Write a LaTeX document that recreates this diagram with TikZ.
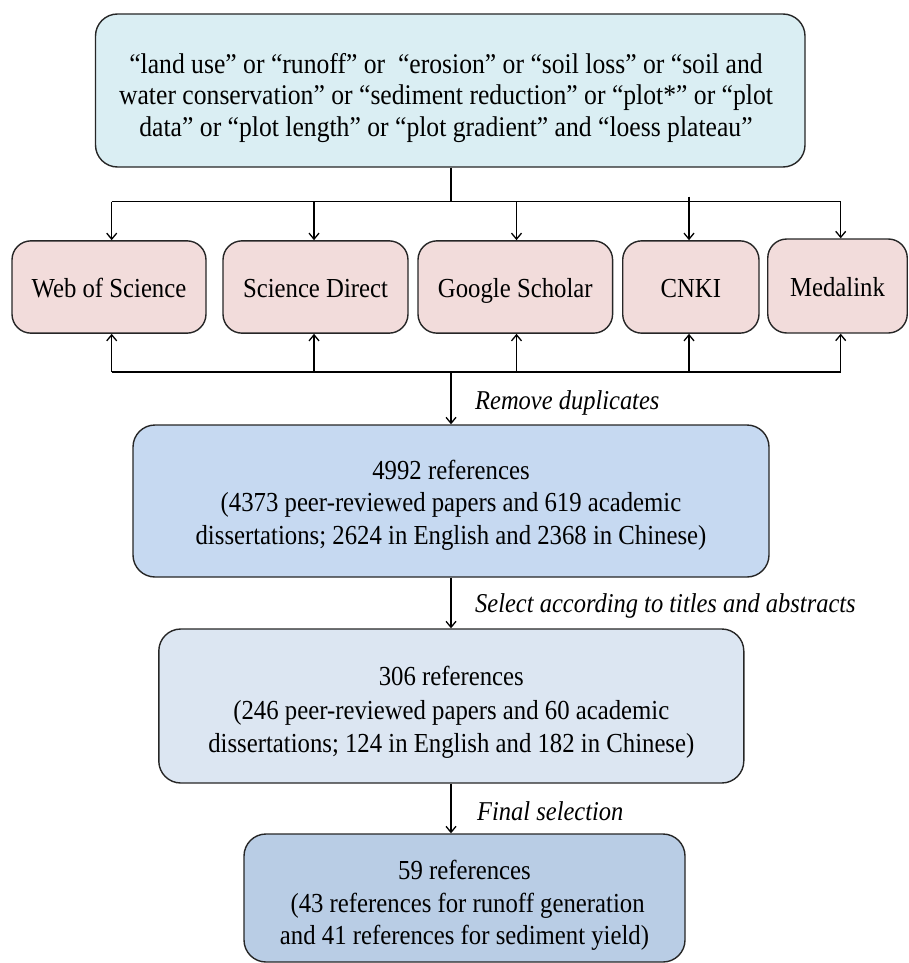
\documentclass[tikz,border=0pt]{standalone}
\usepackage{fontspec}
\setmainfont{Liberation Serif}[FakeStretch=0.9]
\usetikzlibrary{arrows.meta}
\definecolor{topfill}{HTML}{DAEEF3}
\definecolor{dbfill}{HTML}{F2DCDB}
\definecolor{twofill}{HTML}{C6D9F1}
\definecolor{threefill}{HTML}{DCE6F2}
\definecolor{fourfill}{HTML}{B9CDE5}
\tikzset{
  box/.style={draw=black!85, line width=1.4pt, rounded corners=22pt, inner sep=0pt},
  txt/.style={align=center, inner sep=0pt, font=\fontsize{27.5}{32.5}\selectfont},
  dbbox/.style={box, txt, fill=dbfill, rounded corners=19pt, minimum height=92.3pt,
    text height=20pt, text depth=0pt},
  arr/.style={line width=1.3pt, -{Straight Barb[length=6pt,width=10pt,line width=1.3pt]}},
  ln/.style={line width=1.3pt},
  lab/.style={anchor=west, inner sep=0pt, font=\fontsize{27.2}{32}\selectfont\itshape}
}
\begin{document}
\begin{tikzpicture}[x=1pt,y=-1pt]
\useasboundingbox (0,0) rectangle (908,963);
\node[box, fill=topfill, minimum width=709.5pt, minimum height=153pt] (top) at (450.25,90.5) {};
\node[txt, font=\fontsize{28.5}{31.5}\selectfont] (toptext) at (446,98)
  {“land use” or “runoff” or \ “erosion” or “soil loss” or “soil and\\
   water conservation” or “sediment reduction” or “plot*” or “plot\\
   data” or “plot length” or “plot gradient” and “loess plateau”};
\node[dbbox, minimum width=194pt] (wos) at (109,287) {Web of Science};
\node[dbbox, minimum width=185pt] (sd) at (315.5,287) {Science Direct};
\node[dbbox, minimum width=194.6pt] (gs) at (515.3,287) {Google Scholar};
\node[dbbox, minimum width=136.3pt] (cnki) at (690.85,287) {CNKI};
\node[dbbox, minimum width=139.5pt, minimum height=94pt] (med) at (837.5,286) {Medalink};
\node[box, fill=twofill, minimum width=636pt, minimum height=152pt] (two) at (451,501) {};
\node[txt] (twotext) at (451,505)
  {4992 references\\(4373 peer-reviewed papers and 619 academic\\dissertations; 2624 in English and 2368 in Chinese)};
\node[box, fill=threefill, minimum width=585pt, minimum height=154pt] (three) at (451.3,706) {};
\node[txt, font=\fontsize{27.5}{33.5}\selectfont] (threetext) at (451.3,712.5)
  {306 references\\(246 peer-reviewed papers and 60 academic\\dissertations; 124 in English and 182 in Chinese)};
\node[box, fill=fourfill, minimum width=441pt, minimum height=128pt] (four) at (464.5,898) {};
\node[txt] (fourtext) at (464.5,905.5)
  {59 references\\ \ (43 references for runoff generation\\and 41 references for sediment yield)};
% distribution bar
\coordinate (tj) at (451,201.7);
\coordinate (t1) at (111.7,201.7);
\coordinate (t2) at (314,201.7);
\coordinate (t3) at (516.5,201.7);
\coordinate (t4) at (689,201.7);
\coordinate (t5) at (840.7,201.7);
\draw[ln] (top.south -| tj) -- (tj);
\draw[ln] (t1) -- (t5);
\draw[arr] (t1) -- (t1 |- wos.north);
\draw[arr] (t2) -- (t2 |- sd.north);
\draw[arr] (t3) -- (t3 |- gs.north);
\draw[arr] ([yshift=5pt]t4) -- (t4 |- cnki.north);
\draw[arr] (t5) -- (t5 |- med.north);
% collection bar
\coordinate (bj) at (451,372);
\coordinate (b1) at (111.7,372);
\coordinate (b2) at (314,372);
\coordinate (b3) at (516.5,372);
\coordinate (b4) at (689,372);
\coordinate (b5) at (840.7,372);
\draw[ln] (b1) -- (b5);
\draw[arr] (b1) -- (b1 |- wos.south);
\draw[arr] (b2) -- (b2 |- sd.south);
\draw[arr] (b3) -- (b3 |- gs.south);
\draw[arr] (b4) -- (b4 |- cnki.south);
\draw[arr] (b5) -- (b5 |- med.south);
\draw[arr] (bj) -- (bj |- two.north);
\node[lab] (l1) at (475,402.5) {Remove duplicates};
\draw[arr] (two.south -| bj) -- (bj |- three.north);
\node[lab] (l2) at (475,606) {Select according to titles and abstracts};
\draw[arr] (three.south -| bj) -- (bj |- four.north);
\node[lab] (l3) at (477,811) {Final selection};
\end{tikzpicture}
\end{document}
